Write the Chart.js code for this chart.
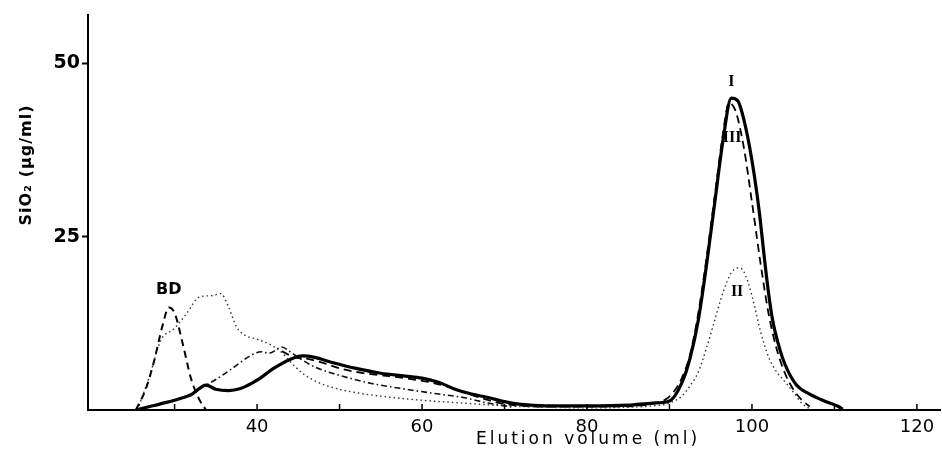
<!DOCTYPE html>
<html>
<head>
<meta charset="utf-8">
<script src="https://cdn.jsdelivr.net/npm/chart.js@4.4.0/dist/chart.umd.min.js"></script>
<style>
    html, body { margin: 0; padding: 0; background: #fff; }
    canvas { display: block; }
</style>
</head>
<body>
<canvas id="graficoElution" width="942" height="455"></canvas>
<script>
// values (elution volume in ml, SiO2 in ug/ml)
const mlBD  = [25.3, 26.5, 27.5, 28.5, 29.3, 30.0, 31.0, 32.0, 33.0, 33.8];
const sioBD = [0, 3.0, 7.0, 12.0, 14.8, 14.0, 9.5, 4.5, 1.5, 0];

const mlI  = [25.3, 27, 29, 30.5, 32, 33.8, 35, 36.5, 38, 40, 42, 44, 45.5, 47, 49, 52, 55, 58, 60, 62, 64, 66, 68, 70, 72, 75, 80, 85, 88, 90, 91.6, 92.5, 93.5, 94.5, 95.5, 96.5, 97.5, 98.3, 99, 100, 100.9, 101.5, 102, 102.5, 103.2, 104, 105.4, 107, 109, 110.5, 111];
const sioI = [0, 0.5, 1.1, 1.6, 2.2, 3.6, 3.0, 2.8, 3.1, 4.3, 6.0, 7.3, 7.8, 7.6, 6.9, 6.0, 5.3, 4.9, 4.6, 4.0, 3.0, 2.3, 1.8, 1.2, 0.8, 0.6, 0.6, 0.7, 1.0, 1.3, 4.2, 7.5, 13, 21, 30, 39, 45, 44.6, 42, 36, 28.5, 22, 17, 13, 9.5, 6.6, 3.6, 2.3, 1.2, 0.5, 0.1];

const mlII  = [25.5, 27, 28.3, 30, 31.5, 33, 34.5, 35.6, 36.5, 37.5, 38.5, 40, 41.5, 42.7, 44, 45.5, 47, 49, 52, 55, 60, 65, 70, 75, 80, 85, 88, 90, 91.5, 92.5, 93.5, 94.5, 95.5, 96.5, 97.5, 98.3, 99, 100, 101, 102, 103, 104.2, 105, 106.1, 107];
const sioII = [0, 5, 10, 11.8, 14, 16.3, 16.5, 16.8, 15, 12, 10.8, 10.2, 9.5, 8.6, 7, 5.3, 4.2, 3.3, 2.5, 2.0, 1.4, 1.0, 0.6, 0.4, 0.3, 0.4, 0.6, 1.0, 2.0, 3.5, 5.5, 9, 13, 17, 19.8, 20.5, 20, 16.5, 11.5, 7.7, 5.5, 3.8, 2.6, 0.9, 0.2];

const mlIII  = [43, 44.5, 46, 48, 50, 53, 56, 59, 61, 63, 65, 67, 69, 71, 74, 78, 82, 86, 88, 89.5, 90.5, 91.5, 92.5, 93.5, 94.5, 95.5, 96.5, 97.2, 98, 99, 100, 101, 102, 103, 104, 105, 106, 107];
const sioIII = [8.5, 7.6, 7.4, 6.8, 6.0, 5.3, 4.9, 4.4, 4.0, 3.4, 2.6, 1.8, 1.1, 0.7, 0.5, 0.5, 0.5, 0.6, 0.9, 1.5, 2.6, 4.6, 8, 14, 22, 31, 40, 44.3, 43.2, 38, 30, 21.5, 14, 8.8, 5.3, 3, 1.5, 0.5];

// dash-dot curve, no label in the figure
const mlDD  = [25.3, 29, 32, 33.8, 35, 37, 39, 40.5, 41.5, 43, 44, 45.5, 47, 50, 54, 58, 62, 65, 68, 71];
const sioDD = [0, 1.1, 2.2, 3.6, 4.4, 6.0, 7.7, 8.4, 8.2, 9.1, 8.4, 7.2, 6.2, 5.0, 3.8, 3.0, 2.3, 1.8, 1.0, 0.4];

const xTickLabels = [40, 60, 80, 100, 120];
const yTickLabels = [25, 50];
const xMinorTicks = [30, 40, 50, 60, 70, 80, 90, 100, 110, 120];

const peakText = ['BD', 'I', 'III', 'II'];
const peakMl   = [29.3, 97.5, 97.6, 98.2];
const peakSio  = [17.4, 47.3, 39.2, 17.0];

const punti = (xs, ys) => xs.map((v, i) => ({ x: v, y: ys[i] }));

const etichette = {
    id: 'etichette',
    afterDatasetsDraw(chart) {
        const { ctx, chartArea, scales: { x, y } } = chart;
        ctx.save();
        ctx.strokeStyle = '#000';
        ctx.lineWidth = 1.5;
        xMinorTicks.forEach(v => {
            const px = x.getPixelForValue(v);
            ctx.beginPath();
            ctx.moveTo(px, chartArea.bottom);
            ctx.lineTo(px, chartArea.bottom - 6);
            ctx.stroke();
        });

        ctx.fillStyle = '#000';
        ctx.textAlign = 'center';
        ctx.textBaseline = 'middle';
        peakText.forEach((t, i) => {
            ctx.font = t === 'BD' ? 'bold 16px "DejaVu Sans"' : 'bold 16px "Liberation Serif"';
            ctx.fillText(t, x.getPixelForValue(peakMl[i]), y.getPixelForValue(peakSio[i]));
        });

        // axis titles
        ctx.font = '17px "DejaVu Sans"';
        ctx.letterSpacing = '3px';
        ctx.fillText('Elution volume (ml)', 588, 440);
        ctx.translate(27, 165);
        ctx.rotate(-Math.PI / 2);
        ctx.font = 'bold 16px "DejaVu Sans"';
        ctx.letterSpacing = '1px';
        ctx.fillText('SiO\u2082 (\u00b5g/ml)', 0, 0);
        ctx.restore();
    }
};

const canvas = document.getElementById('graficoElution');
new Chart(canvas, {
    type: 'line',
    data: {
        datasets: [
            { label: 'BD', data: punti(mlBD, sioBD), borderColor: '#000', borderWidth: 2, borderDash: [7, 5] },
            { label: 'II', data: punti(mlII, sioII), borderColor: '#333', borderWidth: 1.4, borderDash: [1.5, 3] },
            { label: 'dash-dot', data: punti(mlDD, sioDD), borderColor: '#111', borderWidth: 1.6, borderDash: [6, 3, 1.5, 3] },
            { label: 'III', data: punti(mlIII, sioIII), borderColor: '#000', borderWidth: 1.8, borderDash: [8, 5] },
            { label: 'I', data: punti(mlI, sioI), borderColor: '#000', borderWidth: 3.2 }
        ]
    },
    options: {
        responsive: false,
        animation: false,
        layout: { padding: { top: 15, right: 2, left: 0, bottom: 0 } },
        elements: {
            point: { radius: 0 },
            line: { cubicInterpolationMode: 'monotone', fill: false }
        },
        plugins: {
            legend: { display: false },
            tooltip: { enabled: false }
        },
        scales: {
            x: {
                type: 'linear',
                min: 19.5,
                max: 122.8,
                afterFit: s => { s.height = 45; },
                afterBuildTicks: s => { s.ticks = xTickLabels.map(v => ({ value: v })); },
                grid: { display: false, drawTicks: false },
                border: { color: '#000', width: 2 },
                ticks: {
                    color: '#000',
                    padding: 7,
                    maxRotation: 0,
                    font: { family: 'DejaVu Sans', size: 18 }
                }
            },
            y: {
                min: 0,
                max: 57,
                afterFit: s => { s.width = 88; },
                afterBuildTicks: s => { s.ticks = yTickLabels.map(v => ({ value: v })); },
                grid: { drawOnChartArea: false, drawTicks: true, tickLength: 6, color: '#000', tickWidth: 2 },
                border: { color: '#000', width: 2 },
                ticks: {
                    color: '#000',
                    padding: 2,
                    font: { family: 'DejaVu Sans', size: 19, weight: 'bold' }
                }
            }
        }
    },
    plugins: [etichette]
});
</script>
</body>
</html>
